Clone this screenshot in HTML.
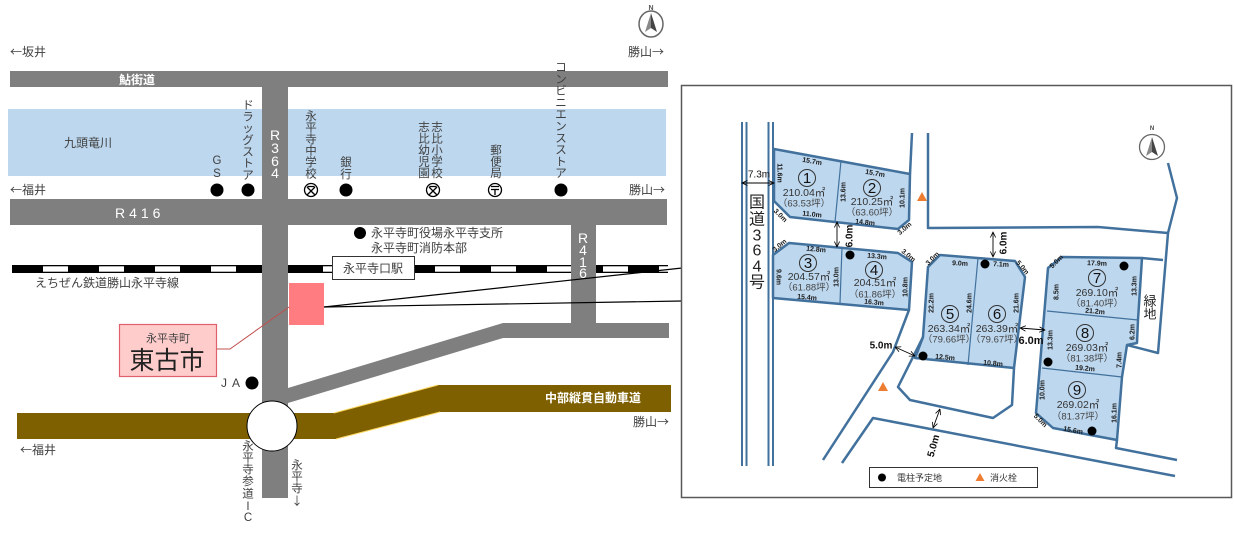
<!DOCTYPE html>
<html><head><meta charset="utf-8"><style>
html,body{margin:0;padding:0;background:#fff;}
svg{display:block;}
</style></head><body>
<svg width="1234" height="535" viewBox="0 0 1234 535" xmlns="http://www.w3.org/2000/svg" font-family="'Liberation Sans','Noto Sans CJK JP',sans-serif">
<defs>
<marker id="ah" viewBox="0 0 10 10" refX="9.5" refY="5" markerWidth="6" markerHeight="6" markerUnits="userSpaceOnUse" orient="auto-start-reverse"><path d="M0,0.5 L9.5,5 L0,9.5" fill="none" stroke="#000" stroke-width="1.3"/></marker>
</defs>
<rect width="1234" height="535" fill="#fff"/>

<!-- ================= LEFT MAP ================= -->
<g fill="#404040" font-size="12" font-family="'Noto Sans CJK JP',sans-serif">
<text x="10" y="56">←坂井</text>
<text x="628" y="56">勝山→</text>
<text x="10" y="194">←福井</text>
<text x="629" y="194">勝山→</text>
<text x="633" y="426">勝山→</text>
<text x="20" y="454">←福井</text>
</g>
<!-- compass top -->
<text x="651" y="10" font-size="7" text-anchor="middle" fill="#555" font-weight="bold">N</text>
<ellipse cx="651" cy="24" rx="12" ry="13" fill="none" stroke="#666" stroke-width="1.5"/>
<path d="M651 13 L645 32 L651 28 Z" fill="#888"/>
<path d="M651 13 L657 32 L651 28 Z" fill="#444"/>

<!-- river -->
<rect x="8" y="109" width="658" height="67" fill="#BDD7EE"/>
<text x="64" y="147" font-size="12" fill="#404040">九頭竜川</text>

<!-- rail -->
<rect x="12" y="265" width="656" height="8" fill="#000"/>
<g fill="#fff">
<rect x="43" y="266.3" width="25" height="5.4"/>
<rect x="99" y="266.3" width="25" height="5.4"/>
<rect x="155" y="266.3" width="25" height="5.4"/>
<rect x="211" y="266.3" width="25" height="5.4"/>
<rect x="323" y="266.3" width="25" height="5.4"/>
<rect x="379" y="266.3" width="25" height="5.4"/>
<rect x="435" y="266.3" width="25" height="5.4"/>
<rect x="491" y="266.3" width="25" height="5.4"/>
<rect x="547" y="266.3" width="25" height="5.4"/>
<rect x="603" y="266.3" width="25" height="5.4"/>
<rect x="659" y="266.3" width="9" height="5.4"/>
</g>
<text x="35" y="287" font-size="12" fill="#404040">えちぜん鉄道勝山永平寺線</text>

<!-- roads -->
<g fill="#7F7F7F">
<rect x="10" y="71" width="658" height="16"/>
<rect x="10" y="199" width="657" height="26"/>
<rect x="262" y="71" width="26" height="427"/>
<rect x="571" y="199" width="25" height="139"/>
<rect x="503" y="323" width="166" height="15"/>
<polygon points="288,388 503,323 503,338 288,403"/>
</g>
<text x="137" y="84" font-size="12" font-weight="bold" fill="#fff" text-anchor="middle">鮎街道</text>
<text x="115" y="218" font-size="14" fill="#fff" letter-spacing="4">R416</text>
<g font-size="14" fill="#fff" text-anchor="middle" dominant-baseline="central">
<text x="275" y="135">R</text><text x="275" y="148">3</text><text x="275" y="161">6</text><text x="275" y="173">4</text>
<text x="583" y="238">R</text><text x="583" y="250">4</text><text x="583" y="262">1</text><text x="583" y="273">6</text>
</g>

<!-- station -->
<rect x="332.5" y="256.5" width="82" height="23" fill="#fff" stroke="#333" stroke-width="1"/>
<text x="373" y="272.5" font-size="12" fill="#404040" text-anchor="middle">永平寺口駅</text>

<!-- expressway -->
<polygon points="17,413 334,413 438,385 671,385 671,412 440,412 336,439 17,439" fill="#7F6000"/>
<line x1="334" y1="413" x2="438" y2="385" stroke="#FFD966" stroke-width="1"/>
<line x1="336" y1="439" x2="440" y2="412" stroke="#FFD966" stroke-width="1"/>
<text x="593" y="402" font-size="12" font-weight="bold" fill="#fff" text-anchor="middle">中部縦貫自動車道</text>
<circle cx="272" cy="426" r="25" fill="#fff" stroke="#000" stroke-width="1"/>

<!-- POIs -->
<g fill="#000">
<circle cx="217" cy="190" r="6.5"/>
<circle cx="248" cy="190" r="6.5"/>
<circle cx="346" cy="190" r="6.5"/>
<circle cx="561" cy="190" r="6.5"/>
<circle cx="252" cy="383" r="6.5"/>
<circle cx="360" cy="233" r="6"/>
</g>
<!-- school symbols -->
<g fill="none" stroke="#000" stroke-width="1.3">
<circle cx="311" cy="190" r="6.5"/>
<path d="M307 187 L315 195 M315 187 L307 195 M307.5 186.5 H314.5"/>
<circle cx="433" cy="190" r="6.5"/>
<path d="M429 187 L437 195 M437 187 L429 195 M429.5 186.5 H436.5"/>
<circle cx="495" cy="190" r="6.5"/>
<path d="M491 186.5 H499 M491 189.5 H499 M495 189.5 V195"/>
</g>

<!-- vertical labels -->
<g font-size="11.5" fill="#404040" text-anchor="middle" dominant-baseline="central">
<text><tspan x="217" y="161">G</tspan><tspan x="217" y="174">S</tspan></text>
<text><tspan x="248" y="106">ド</tspan><tspan x="248" y="117.5">ラ</tspan><tspan x="248" y="129">ッ</tspan><tspan x="248" y="141">グ</tspan><tspan x="248" y="152.5">ス</tspan><tspan x="248" y="164">ト</tspan><tspan x="248" y="176">ア</tspan></text>
<text><tspan x="311" y="117">永</tspan><tspan x="311" y="128.5">平</tspan><tspan x="311" y="140">寺</tspan><tspan x="311" y="151.5">中</tspan><tspan x="311" y="163">学</tspan><tspan x="311" y="174.5">校</tspan></text>
<text><tspan x="346" y="163">銀</tspan><tspan x="346" y="175">行</tspan></text>
<text><tspan x="437" y="128">志</tspan><tspan x="437" y="139.5">比</tspan><tspan x="437" y="151">小</tspan><tspan x="437" y="162.5">学</tspan><tspan x="437" y="174">校</tspan></text>
<text><tspan x="424" y="128">志</tspan><tspan x="424" y="139.5">比</tspan><tspan x="424" y="151">幼</tspan><tspan x="424" y="162.5">児</tspan><tspan x="424" y="174">園</tspan></text>
<text><tspan x="496" y="151">郵</tspan><tspan x="496" y="162.5">便</tspan><tspan x="496" y="174">局</tspan></text>
<text><tspan x="561" y="68">コ</tspan><tspan x="561" y="79.8">ン</tspan><tspan x="561" y="91.6">ビ</tspan><tspan x="561" y="103.4">ニ</tspan><tspan x="561" y="115.2">エ</tspan><tspan x="561" y="127">ン</tspan><tspan x="561" y="138.8">ス</tspan><tspan x="561" y="150.6">ス</tspan><tspan x="561" y="162.4">ト</tspan><tspan x="561" y="174.2">ア</tspan></text>
<text><tspan x="248" y="447">永</tspan><tspan x="248" y="458.5">平</tspan><tspan x="248" y="470">寺</tspan><tspan x="248" y="482">参</tspan><tspan x="248" y="494.5">道</tspan><tspan x="248" y="507">I</tspan><tspan x="248" y="518">C</tspan></text>
<text font-family="'Noto Sans CJK JP',sans-serif"><tspan x="297" y="465">永</tspan><tspan x="297" y="476.5">平</tspan><tspan x="297" y="488">寺</tspan><tspan x="297" y="501">↓</tspan></text>
</g>
<g font-size="12" fill="#404040">
<text x="371" y="237">永平寺町役場永平寺支所</text>
<text x="371" y="252">永平寺町消防本部</text>
<text x="221" y="387" letter-spacing="5">JA</text>
</g>

<!-- site square & callout -->
<rect x="289" y="283" width="35" height="42" fill="#FF7C80"/>
<polyline points="217,349 230,349 289,307" fill="none" stroke="#C0504D" stroke-width="1"/>
<rect x="119.5" y="324.5" width="97" height="52" fill="#FFCCCC" stroke="#E0606E" stroke-width="1.2"/>
<text x="168" y="342" font-size="11" fill="#404040" text-anchor="middle">永平寺町</text>
<text x="167" y="369" font-size="25" fill="#222" text-anchor="middle">東古市</text>

<!-- connectors -->
<line x1="324" y1="307" x2="682" y2="268" stroke="#000" stroke-width="1.2"/>
<line x1="324" y1="307" x2="682" y2="301" stroke="#000" stroke-width="1.2"/>

<!-- ================= RIGHT PANEL ================= -->
<rect x="681.5" y="85.5" width="550" height="412" fill="#fff" stroke="#595959" stroke-width="1.5"/>

<!-- compass right -->
<text x="1152" y="130" font-size="6" text-anchor="middle" fill="#444" font-weight="bold">N</text>
<circle cx="1152" cy="147" r="12.5" fill="none" stroke="#666" stroke-width="1.3"/>
<path d="M1152 137 L1146 156 L1152 152 Z" fill="#888"/>
<path d="M1152 137 L1158 156 L1152 152 Z" fill="#444"/>

<!-- national road lines -->
<g stroke="#41719C" stroke-width="2">
<line x1="742" y1="122" x2="742" y2="466"/>
<line x1="746.5" y1="122" x2="746.5" y2="466"/>
<line x1="768.5" y1="122" x2="768.5" y2="466"/>
<line x1="773" y1="122" x2="773" y2="466"/>
</g>
<g font-size="16" fill="#222" text-anchor="middle" dominant-baseline="central">
<text x="757" y="203">国</text><text x="757" y="220">道</text><text x="757" y="236">3</text><text x="757" y="251">6</text><text x="757" y="267">4</text><text x="757" y="283">号</text>
</g>

<!-- lots fill -->
<g fill="#BDD7EE" stroke="#41719C" stroke-width="2.5" stroke-linejoin="round">
<polygon points="774,149 910,174 909,220 898,229 790,217 774,201"/>
<polygon points="773,255 789,243 898,253 912,262 909,310 773,298"/>
<polygon points="928,267 940,255 1015,261 1025,277 1014,368 915,358 923,337"/>
<polygon points="1048,268 1062,257 1142,258 1138,320 1137,343 1127,345 1122,377 1117,440 1053,428 1036,413"/>
</g>
<!-- dividers -->
<g stroke="#41719C" stroke-width="1.2">
<line x1="841" y1="161" x2="835" y2="222"/>
<line x1="842" y1="247" x2="840" y2="303"/>
<line x1="978" y1="258" x2="968" y2="365"/>
<line x1="1047" y1="311" x2="1138" y2="320"/>
<line x1="1042" y1="368" x2="1122" y2="377"/>
</g>
<!-- road / boundary lines -->
<g fill="none" stroke="#41719C" stroke-width="2.5" stroke-linejoin="round">
<polyline points="912,133 910,174"/>
<polyline points="928,133 928,228 1098,227 1168,233 1177,198 1168,163"/>
<polyline points="1168,233 1158,353 1127,345"/>
<polyline points="1142,258 1163,260"/>
<polyline points="909,310 893,352 823,460"/>
<polyline points="923,337 898,387 910,400 993,418 1012,405 1014,368"/>
<polyline points="842,463 873,418 1175,476"/>
<polyline points="1117,440 1116,448 1177,460"/>
</g>

<!-- dots -->
<g fill="#000">
<circle cx="850" cy="255" r="4.5"/>
<circle cx="985" cy="264" r="4.5"/>
<circle cx="923" cy="356" r="4.5"/>
<circle cx="1124" cy="266" r="4.5"/>
<circle cx="1048" cy="362" r="4.5"/>
<circle cx="1092" cy="431" r="4.5"/>
</g>
<!-- hydrants -->
<g fill="#ED7D31">
<polygon points="922,192 927,201 917,201"/>
<polygon points="883,382 888,391 878,391"/>
</g>

<!-- circled numbers -->
<g fill="none" stroke="#333" stroke-width="1">
<circle cx="807" cy="178" r="8.5"/>
<circle cx="872" cy="188" r="8.5"/>
<circle cx="808" cy="263" r="8.5"/>
<circle cx="874" cy="270" r="8.5"/>
<circle cx="950" cy="314" r="8.5"/>
<circle cx="997" cy="314" r="8.5"/>
<circle cx="1097" cy="278" r="8.5"/>
<circle cx="1085" cy="333" r="8.5"/>
<circle cx="1077" cy="390" r="8.5"/>
</g>
<g font-size="15" fill="#111" text-anchor="middle" dominant-baseline="central">
<text x="807" y="178.5">1</text><text x="872" y="188.5">2</text><text x="808" y="263.5">3</text><text x="874" y="270.5">4</text><text x="950" y="314.5">5</text><text x="997" y="314.5">6</text><text x="1097" y="278.5">7</text><text x="1085" y="333.5">8</text><text x="1077" y="390.5">9</text>
</g>
<!-- areas -->
<g font-size="10.5" fill="#333" text-anchor="middle" dominant-baseline="central">
<text x="804" y="193">210.04㎡</text>
<text x="872" y="202">210.25㎡</text>
<text x="809" y="277">204.57㎡</text>
<text x="875" y="283">204.51㎡</text>
<text x="949" y="329">263.34㎡</text>
<text x="997" y="329">263.39㎡</text>
<text x="1097" y="293">269.10㎡</text>
<text x="1087" y="348">269.03㎡</text>
<text x="1078" y="405">269.02㎡</text>
</g>
<g font-size="9.5" fill="#444" text-anchor="middle" dominant-baseline="central">
<text x="804" y="204">（63.53坪）</text>
<text x="872" y="213">（63.60坪）</text>
<text x="809" y="288">（61.88坪）</text>
<text x="875" y="295">（61.86坪）</text>
<text x="949" y="340">（79.66坪）</text>
<text x="997" y="340">（79.67坪）</text>
<text x="1097" y="304">（81.40坪）</text>
<text x="1087" y="359">（81.38坪）</text>
<text x="1078" y="417">（81.37坪）</text>
</g>

<!-- small dimension labels -->
<g font-size="7" font-weight="bold" fill="#1a1a1a" text-anchor="middle" dominant-baseline="central">
<text transform="translate(812,162) rotate(10)">15.7m</text>
<text transform="translate(779,173) rotate(90)">11.6m</text>
<text transform="translate(844,192) rotate(-90)">13.6m</text>
<text transform="translate(780,216) rotate(45)">3.0m</text>
<text transform="translate(812,215) rotate(6)">11.0m</text>
<text transform="translate(875,174) rotate(10)">15.7m</text>
<text transform="translate(903,198) rotate(-90)">10.1m</text>
<text transform="translate(865,223) rotate(6)">14.8m</text>
<text transform="translate(905,229) rotate(-40)">3.0m</text>
<text transform="translate(780,246) rotate(-40)">3.0m</text>
<text transform="translate(816,250) rotate(5)">12.8m</text>
<text transform="translate(778,277) rotate(90)">9.6m</text>
<text transform="translate(837,277) rotate(-90)">13.0m</text>
<text transform="translate(807,298) rotate(5)">15.4m</text>
<text transform="translate(877,257) rotate(5)">13.3m</text>
<text transform="translate(908,256) rotate(40)">3.0m</text>
<text transform="translate(906,287) rotate(-90)">10.8m</text>
<text transform="translate(874,303) rotate(5)">16.3m</text>
<text transform="translate(933,259) rotate(-45)">3.0m</text>
<text transform="translate(960,264) rotate(3)">9.0m</text>
<text transform="translate(932,303) rotate(-90)">22.2m</text>
<text transform="translate(970,303) rotate(-90)">24.6m</text>
<text transform="translate(945,358) rotate(5)">12.5m</text>
<text transform="translate(1001,265) rotate(3)">7.1m</text>
<text transform="translate(1022,268) rotate(50)">5.0m</text>
<text transform="translate(1017,303) rotate(-90)">21.6m</text>
<text transform="translate(993,364) rotate(5)">10.8m</text>
<text transform="translate(1057,262) rotate(-45)">5.0m</text>
<text transform="translate(1097,264) rotate(2)">17.9m</text>
<text transform="translate(1057,292) rotate(-90)">8.5m</text>
<text transform="translate(1135,286) rotate(-90)">13.3m</text>
<text transform="translate(1095,312) rotate(5)">21.2m</text>
<text transform="translate(1051,340) rotate(-90)">13.3m</text>
<text transform="translate(1133,332) rotate(-90)">6.2m</text>
<text transform="translate(1120,360) rotate(-90)">7.4m</text>
<text transform="translate(1085,369) rotate(5)">19.2m</text>
<text transform="translate(1043,390) rotate(-90)">10.0m</text>
<text transform="translate(1115,413) rotate(-90)">16.1m</text>
<text transform="translate(1073,431) rotate(10)">15.6m</text>
<text transform="translate(1040,421) rotate(45)">5.0m</text>
</g>

<!-- dimension arrows -->
<g stroke="#000" stroke-width="0.9" marker-start="url(#ah)" marker-end="url(#ah)">
<line x1="742" y1="183" x2="774" y2="183"/>
<line x1="837" y1="222" x2="837" y2="247"/>
<line x1="993" y1="232" x2="993" y2="257"/>
<line x1="1020" y1="328" x2="1045" y2="330"/>
<line x1="895" y1="347" x2="915" y2="356"/>
<line x1="940" y1="409" x2="933" y2="428"/>
</g>
<g font-weight="bold" fill="#111" text-anchor="middle" dominant-baseline="central">
<text x="759" y="175" font-size="10" font-weight="normal">7.3m</text>
<text transform="translate(850,236) rotate(-90)" font-size="10">6.0m</text>
<text transform="translate(1004,243) rotate(-90)" font-size="10">6.0m</text>
<text x="1031" y="341" font-size="11">6.0m</text>
<text x="881" y="346" font-size="10">5.0m</text>
<text transform="translate(934,446) rotate(-75)" font-size="10">5.0m</text>
</g>
<g font-size="13" fill="#222" text-anchor="middle" dominant-baseline="central">
<text x="1150" y="301">緑</text><text x="1150" y="314">地</text>
</g>

<!-- legend -->
<rect x="869.5" y="467.5" width="168" height="20" fill="#fff" stroke="#333" stroke-width="1"/>
<circle cx="882" cy="477.5" r="4"/>
<text x="897" y="481" font-size="9" fill="#333">電柱予定地</text>
<polygon points="980,473 984.5,481 975.5,481" fill="#ED7D31"/>
<text x="990" y="481" font-size="9" fill="#333">消火栓</text>
</svg>
</body></html>
